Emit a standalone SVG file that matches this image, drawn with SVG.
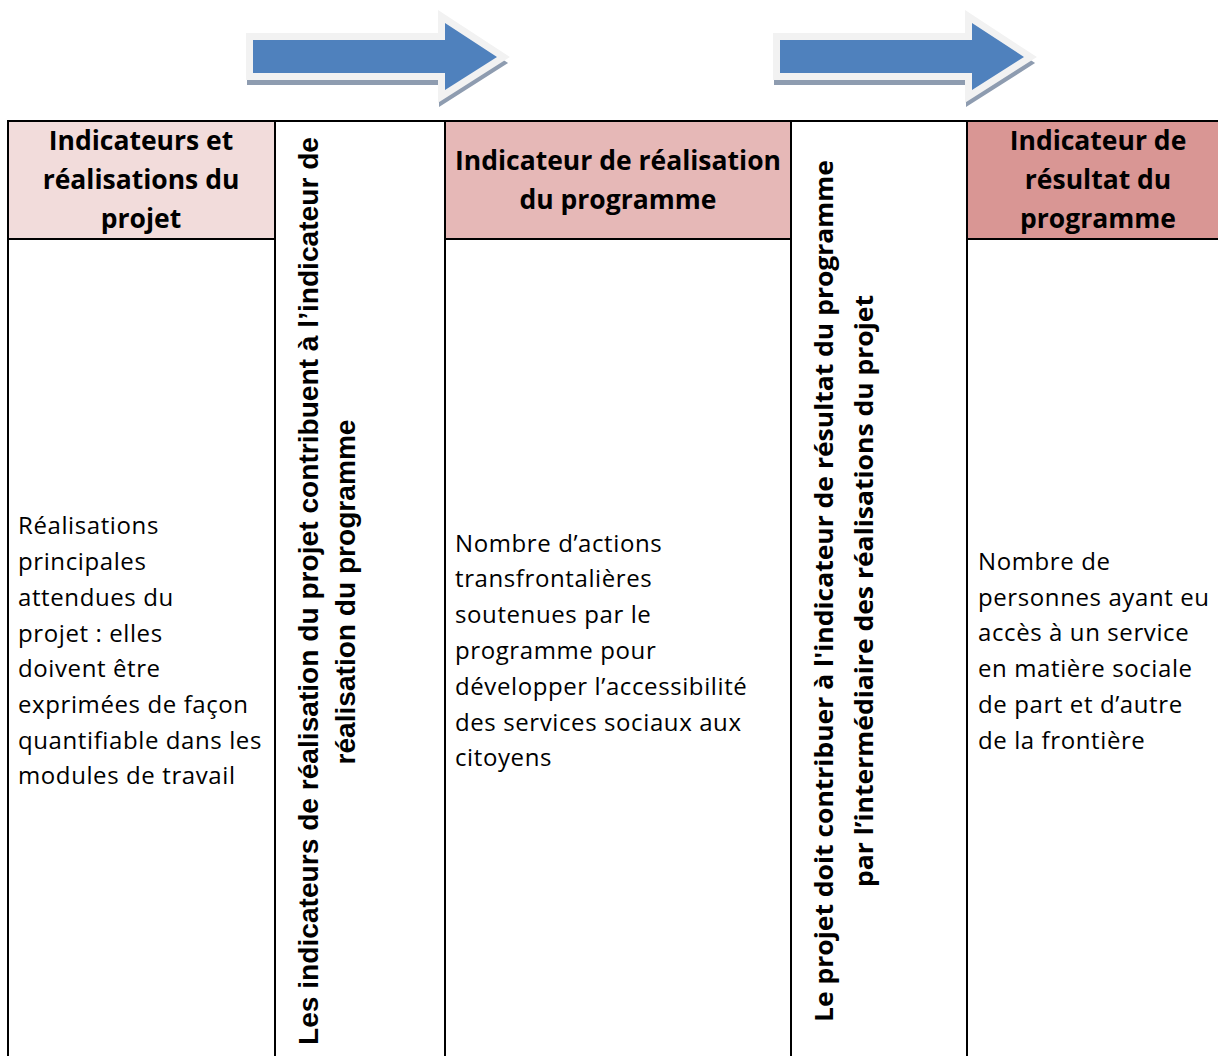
<svg xmlns="http://www.w3.org/2000/svg" width="1218" height="1056" viewBox="0 0 1218 1056">
<style>
.hd{font-family:"Open Sans",Lato,sans-serif;font-weight:bold;font-size:26.5px;fill:#000;text-anchor:middle}
.bd{font-family:"Open Sans",Lato,sans-serif;font-size:24px;letter-spacing:0.6px;fill:#000}
.v2{font-family:"Liberation Sans",Arial,sans-serif;font-weight:bold;font-size:27px;fill:#000;text-anchor:middle}
.v4{font-family:"Open Sans",Lato,sans-serif;font-weight:bold;font-size:25px;fill:#000;text-anchor:middle}
.ln{stroke:#000;stroke-width:2;fill:none}
.sh{fill:#8e9cb0;stroke:#8e9cb0;stroke-width:12}
.ol{fill:#f2f2f2;stroke:#f2f2f2;stroke-width:14;stroke-linejoin:miter}
.ar{fill:#4f81bd}
</style>
<defs>
<path id="arrow" d="M0,40 H192 V23 L244,57 L192,90 V73 H0 Z"/>
</defs>
<g id="arrow1" transform="translate(253,0)">
<use href="#arrow" class="sh" transform="translate(0,6)"/>
<use href="#arrow" class="ol"/>
<use href="#arrow" class="ar"/>
</g>
<g id="arrow2" transform="translate(780,0)">
<use href="#arrow" class="sh" transform="translate(0,6)"/>
<use href="#arrow" class="ol"/>
<use href="#arrow" class="ar"/>
</g>
<g id="col1">
<rect x="8" y="121" width="267" height="118" fill="#f2dcdb"/>
<text class="hd"><tspan x="141" y="150">Indicateurs et</tspan><tspan x="141" y="189">réalisations du</tspan><tspan x="141" y="228">projet</tspan></text>
<text class="bd"><tspan x="18" y="534">Réalisations</tspan><tspan x="18" y="570">principales</tspan><tspan x="18" y="606">attendues du</tspan><tspan x="18" y="642">projet : elles</tspan><tspan x="18" y="677">doivent être</tspan><tspan x="18" y="713">exprimées de façon</tspan><tspan x="18" y="749">quantifiable dans les</tspan><tspan x="18" y="784">modules de travail</tspan></text>
</g>
<g id="col2">
<text class="v2" transform="translate(318,591) rotate(-90)" x="0" y="0" textLength="908" lengthAdjust="spacingAndGlyphs">Les indicateurs de réalisation du projet contribuent  à l’indicateur de</text>
<text class="v2" transform="translate(355,592) rotate(-90)" x="0" y="0" textLength="345" lengthAdjust="spacingAndGlyphs">réalisation du programme</text>
</g>
<g id="col3">
<rect x="445" y="121" width="346" height="118" fill="#e6b8b7"/>
<text class="hd"><tspan x="618" y="170">Indicateur de réalisation</tspan><tspan x="618" y="209">du programme</tspan></text>
<text class="bd"><tspan x="455" y="552">Nombre d’actions</tspan><tspan x="455" y="587">transfrontalières</tspan><tspan x="455" y="623">soutenues par le</tspan><tspan x="455" y="659">programme pour</tspan><tspan x="455" y="695">développer l’accessibilité</tspan><tspan x="455" y="731">des services sociaux aux</tspan><tspan x="455" y="766">citoyens</tspan></text>
</g>
<g id="col4">
<text class="v4" transform="translate(833,591) rotate(-90)" x="0" y="0" textLength="862" lengthAdjust="spacingAndGlyphs">Le projet doit contribuer à l'indicateur de résultat du programme</text>
<text class="v4" transform="translate(873,591) rotate(-90)" x="0" y="0" textLength="592" lengthAdjust="spacingAndGlyphs">par l’intermédiaire des réalisations du projet</text>
</g>
<g id="col5">
<rect x="967" y="121" width="251" height="118" fill="#d99694"/>
<text class="hd"><tspan x="1098" y="150">Indicateur de</tspan><tspan x="1098" y="189">résultat du</tspan><tspan x="1098" y="228">programme</tspan></text>
<text class="bd"><tspan x="978" y="570">Nombre de</tspan><tspan x="978" y="606">personnes ayant eu</tspan><tspan x="978" y="641">accès à un service</tspan><tspan x="978" y="677">en matière sociale</tspan><tspan x="978" y="713">de part et d’autre</tspan><tspan x="978" y="749">de la frontière</tspan></text>
</g>
<g id="connectors">
<line class="ln" x1="7" y1="121" x2="1218" y2="121"/>
<line class="ln" x1="8" y1="239" x2="275" y2="239"/>
<line class="ln" x1="445" y1="239" x2="791" y2="239"/>
<line class="ln" x1="967" y1="239" x2="1218" y2="239"/>
<line class="ln" x1="8" y1="120" x2="8" y2="1056"/>
<line class="ln" x1="275" y1="120" x2="275" y2="1056"/>
<line class="ln" x1="445" y1="120" x2="445" y2="1056"/>
<line class="ln" x1="791" y1="120" x2="791" y2="1056"/>
<line class="ln" x1="967" y1="120" x2="967" y2="1056"/>
</g>
</svg>
